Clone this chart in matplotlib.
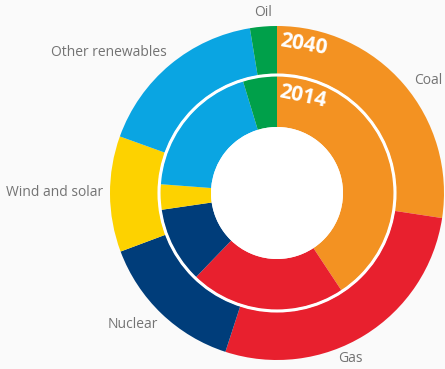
import matplotlib.pyplot as plt
from matplotlib.patches import Circle

# доли источников энергии, по часовой стрелке от верха
sources = ["Coal", "Gas", "Nuclear", "Wind and solar", "Other renewables", "Oil"]
share_2040 = [27.4, 27.6, 14.3, 11.2, 16.9, 2.6]
share_2014 = [40.7, 21.5, 10.5, 3.5, 19.1, 4.7]
colors = ["#F39222", "#E8202E", "#003D7A", "#FDD200", "#0AA5E2", "#00A04A"]

bg = "#fafafa"
W, H = 445, 369
cx, cy = 277, H - 193

fig = plt.figure(figsize=(W / 100, H / 100), dpi=100, facecolor=bg)
ax = fig.add_axes([0, 0, 1, 1])
ax.set_facecolor(bg)

# внешнее кольцо — 2040, внутреннее — 2014
ax.pie(share_2040, colors=colors, startangle=90, counterclock=False,
       center=(cx, cy), radius=167, wedgeprops=dict(width=48, linewidth=0))
ax.pie(share_2014, colors=colors, startangle=90, counterclock=False,
       center=(cx, cy), radius=117, wedgeprops=dict(width=51, linewidth=0))
ax.add_patch(Circle((cx, cy), 118, fill=False, edgecolor="white", linewidth=2.2))
ax.add_patch(Circle((cx, cy), 66, facecolor="white", edgecolor="none"))

ax.set_xlim(0, W)
ax.set_ylim(0, H)
ax.set_aspect("equal")
ax.axis("off")

# подписи сегментов
label_pos = {
    "Oil": (263, 13),
    "Other renewables": (109, 53),
    "Coal": (428, 80),
    "Wind and solar": (55, 193),
    "Nuclear": (133, 325),
    "Gas": (350, 359),
}
for name, (x, y) in label_pos.items():
    ax.text(x, H - y, name, ha="center", va="center", color="#737373",
            fontsize=10, family="Open Sans")

ax.text(304, H - 45, "2040", ha="center", va="center", color="white",
        fontsize=15, fontweight="bold", family="Open Sans", rotation=-10)
ax.text(303, H - 97, "2014", ha="center", va="center", color="white",
        fontsize=15, fontweight="bold", family="Open Sans", rotation=-12)

fig.savefig("out.png", dpi=100, facecolor=bg)
